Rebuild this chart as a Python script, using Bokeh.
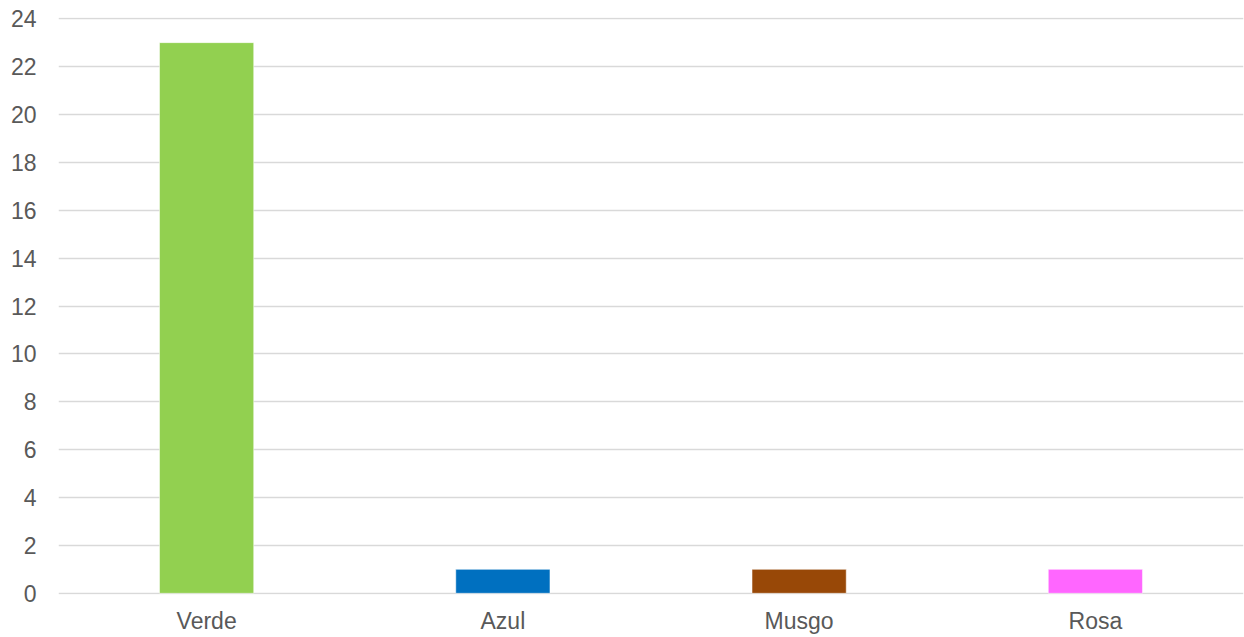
from bokeh.plotting import figure
from bokeh.models import Range1d, FactorRange, FixedTicker, ColumnDataSource
from bokeh.embed import file_html
from bokeh.resources import INLINE

categories = ["Verde", "Azul", "Musgo", "Rosa"]
values = [23, 1, 1, 1]
colors = ["#92D050", "#0070C0", "#984807", "#FF66FF"]
y_ticks = list(range(0, 25, 2))

src = ColumnDataSource(dict(cat=categories, top=values, color=colors))

p = figure(width=1244, height=637, output_backend="svg", toolbar_location=None,
           x_range=FactorRange(*categories), y_range=Range1d(-0.05, 24.05),
           min_border_left=58, min_border_right=1, min_border_top=17, min_border_bottom=43)
p.outline_line_color = None
p.background_fill_color = "white"
p.border_fill_color = "white"

p.vbar(x="cat", top="top", bottom=0, width=0.318, fill_color="color",
       line_color="white", line_width=1, line_alpha=0.5, source=src)

p.yaxis.ticker = FixedTicker(ticks=y_ticks)

for ax in (p.xaxis, p.yaxis):
    ax.axis_line_color = None
    ax.major_tick_line_color = None
    ax.minor_tick_line_color = None
    ax.major_label_text_font = "Liberation Sans"
    ax.major_label_text_font_size = "23px"
    ax.major_label_text_color = "#595959"
p.xaxis.major_label_standoff = 7
p.yaxis.major_label_standoff = 16

p.xgrid.grid_line_color = None
p.ygrid.grid_line_color = "#D9D9D9"
p.ygrid.grid_line_width = 1.5
p.ygrid.level = "underlay"

open("out.html", "w").write(file_html(p, INLINE))
